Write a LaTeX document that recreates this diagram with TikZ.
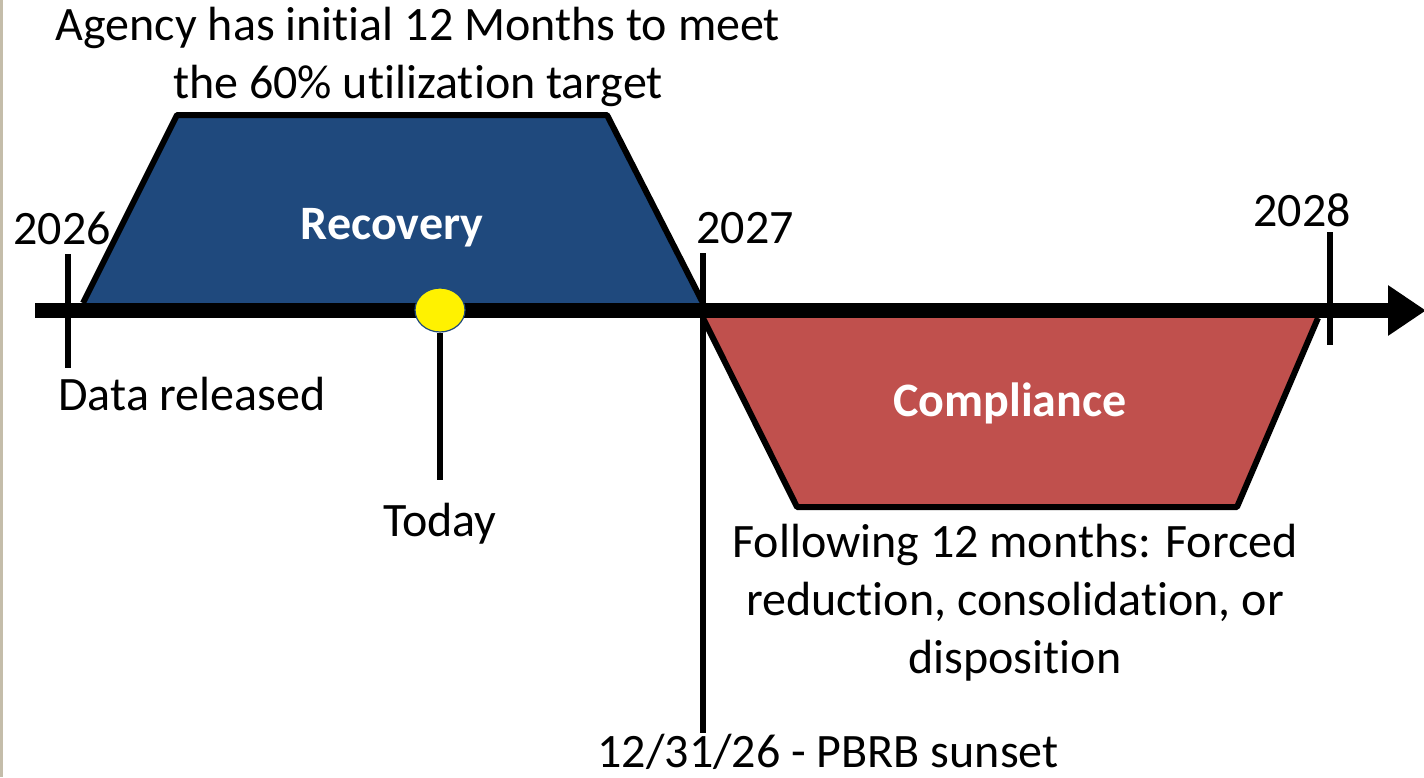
\documentclass[tikz,border=0pt]{standalone}
\usepackage{fontspec}
\setmainfont{Carlito}[Ligatures=NoCommon]
\usepackage{tikz}
\usetikzlibrary{arrows.meta,shapes.geometric}
\definecolor{recov}{RGB}{31, 73, 125}
\definecolor{compl}{RGB}{192, 80, 77}
\definecolor{frame}{RGB}{196, 189, 170}

\begin{document}
\begin{tikzpicture}[x=0.5pt, y=-0.5pt, every node/.style={inner sep=0pt, font=\fontsize{24}{29}\selectfont}]
\useasboundingbox (0,0) rectangle (1424,777);
\fill [color=frame] (0,0) rectangle (3,777);
% phases
\draw [line width=3pt, fill=recov, line join=round] (83,303) -- (177,115) -- (607,115) -- (703,303);
\draw [line width=3pt, fill=compl, line join=round] (703,318) -- (797,507) -- (1237,507) -- (1318,318);
% time line
\coordinate (start) at (35,310.5);
\coordinate (end) at (1424,310.5);
\draw [line width=7.5pt, -{Triangle[length=19pt, width=24pt]}, shorten >=-1pt] (start) -- (end);
% year marks
\coordinate (t26a) at (68,254);
\coordinate (t26b) at (68,368);
\coordinate (t27a) at (703,253);
\coordinate (t27b) at (703,733);
\coordinate (t28a) at (1330,232);
\coordinate (t28b) at (1330,345);
\draw [line width=2.6pt] (t26a) -- (t26b);
\draw [line width=2.6pt] (t27a) -- (t27b);
\draw [line width=2.6pt] (t28a) -- (t28b);
% today
\node (today) [ellipse, minimum width=25pt, minimum height=22pt, fill=yellow, draw=recov, line width=0.6pt, inner sep=0pt] at (440,310) {};
\coordinate (tb) at (440,480);
\draw [line width=2.6pt] (today.south) -- (tb);
% labels
\node (y26) at (62,228) {2026};
\node (y27) at (745,228) {2027};
\node (y28) at (1302,210) {2028};
\node (rec) [text=white, font=\fontsize{24}{29}\selectfont\bfseries] at (392,228) {Recovery};
\node (com) [text=white, font=\fontsize{24}{29}\selectfont\bfseries] at (1010,403) {Compliance};
\node (dr) at (192,394) {Data released};
\node (td) at (440,524) {Today};
\node (ag) [align=center] at (418,57) {Agency has initial 12 Months to meet\\the 60\% utilization target};
\node (fw) [align=center] at (1015,603) {Following 12 months: Forced\\reduction, consolidation, or\\disposition};
\node (sun) at (828,752) {12/31/26 - PBRB sunset};
\end{tikzpicture}
\end{document}
